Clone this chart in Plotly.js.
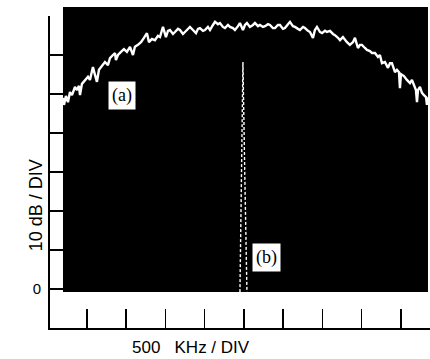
<!DOCTYPE html>
<html>
<head>
<meta charset="utf-8">
<script src="https://cdn.plot.ly/plotly-3.0.1.min.js"></script>
<style>html,body{margin:0;padding:0;background:#fff;}#chart{width:430px;height:359px;}</style>
</head>
<body>
<div id="chart"></div>
<script>
// Frequency offset (kHz) and level (dB) of the broadband spectrum (a)
const freqA = [-2306,-2293,-2268,-2242,-2217,-2191,-2153,-2127,-2102,-2089,-2064,-2025,-1987,-1962,-1924,-1898,-1873,-1847,-1809,-1771,-1733,-1707,-1669,-1643,-1631,-1605,-1567,-1529,-1491,-1452,-1414,-1389,-1350,-1312,-1274,-1236,-1210,-1172,-1134,-1096,-1070,-1032,-994,-968,-943,-904,-879,-841,-815,-777,-752,-713,-688,-650,-611,-586,-561,-522,-497,-459,-433,-395,-369,-331,-306,-268,-242,-204,-178,-140,-115,-76,-51,-13,13,38,76,115,140,178,204,242,268,306,331,369,395,433,459,497,522,561,586,624,650,688,713,752,777,815,841,879,904,930,968,994,1032,1057,1096,1134,1159,1198,1223,1261,1287,1312,1350,1389,1414,1452,1478,1503,1541,1567,1605,1631,1669,1707,1732,1758,1796,1834,1860,1885,1924,1949,1975,1987,2000,2038,2076,2115,2140,2166,2191,2204,2217,2242,2268,2293,2319,2331,2344];
const levelA = [49.0,47.2,49.5,47.9,50.5,49.7,51.8,51.0,52.1,49.7,52.6,53.6,54.4,53.6,56.9,54.9,53.1,56.2,57.2,58.2,57.4,59.2,60.0,60.5,58.7,60.0,60.8,61.5,60.8,62.1,60.0,62.1,62.6,63.3,64.4,65.6,63.3,64.1,63.8,64.9,64.6,67.2,64.6,66.2,66.4,65.4,65.9,66.7,66.4,65.4,65.9,66.7,67.2,66.4,65.6,66.7,66.9,66.2,66.4,67.2,66.4,67.7,68.5,67.9,68.2,67.2,66.9,67.7,67.2,66.9,66.4,67.4,68.2,66.4,67.7,68.2,67.2,67.7,68.2,67.4,67.7,67.2,67.4,67.9,67.7,66.9,66.9,67.7,67.7,66.7,66.9,67.9,68.5,67.4,67.2,66.7,66.4,67.2,66.9,66.2,65.9,64.4,66.4,67.2,65.9,65.6,66.2,65.9,66.2,65.4,65.1,64.4,63.8,64.6,63.8,63.3,62.6,63.3,64.4,61.8,62.6,62.6,61.8,61.3,61.0,60.5,60.5,59.5,60.0,57.9,58.2,56.7,57.9,57.9,55.6,56.2,55.6,51.5,55.1,54.6,53.6,52.8,53.6,52.3,51.0,47.9,51.0,51.8,50.3,49.7,49.2,47.2,49.2];
// Narrow line (b)
const freqB = [-51, -30, -13, 10, 38];
const levelB = [-0.8, 30, 58.2, 30, -0.8];
const yTicks = [0,10,20,30,40,50,60,70];
const yTickText = ['0','','','','','','',''];
const xTicks = [-2000,-1500,-1000,-500,0,500,1000,1500,2000];

const font = 'Liberation Sans, Arial, sans-serif';
const traces = [
  {x: freqA, y: levelA, type: 'scatter', mode: 'lines',
   line: {color: '#ffffff', width: 2.4}, hoverinfo: 'skip'},
  {x: freqB, y: levelB, type: 'scatter', mode: 'lines',
   line: {color: '#ffffff', width: 1.4, dash: '3px,2px'}, hoverinfo: 'skip'}
];
const layout = {
  width: 430, height: 359,
  margin: {l: 50, r: 0, t: 16, b: 31, pad: 0},
  paper_bgcolor: '#ffffff', plot_bgcolor: '#ffffff',
  showlegend: false,
  font: {family: font, color: '#000', size: 14},
  xaxis: {range: [-2471, 2370], tickmode: 'array', tickvals: xTicks,
    showticklabels: false, ticks: 'inside', ticklen: 19, tickwidth: 1.5, tickcolor: '#000',
    showline: true, linewidth: 1.8, linecolor: '#000', showgrid: false, zeroline: false,
    fixedrange: true},
  yaxis: {range: [-10, 70], tickmode: 'array', tickvals: yTicks, ticktext: yTickText,
    ticks: 'inside', ticklen: 13, tickwidth: 1.5, tickcolor: '#000',
    showline: true, linewidth: 1.8, linecolor: '#000', showgrid: false, zeroline: false,
    tickfont: {family: font, size: 15, color: '#000'}, ticklabelstandoff: 4,
    fixedrange: true},
  shapes: [
    {type: 'rect', xref: 'paper', yref: 'paper', x0: 0.0342, x1: 0.9947, y0: 0.1154, y1: 1.0288,
     fillcolor: '#000000', line: {width: 0}, layer: 'below'}
  ],
  annotations: [
    {text: '(a)', x: -1554, y: 49.7, xref: 'x', yref: 'y', showarrow: false,
     font: {family: 'Liberation Serif, Times New Roman, serif', size: 18, color: '#000'},
     bgcolor: '#ffffff', borderpad: 3},
    {text: '(b)', x: 293, y: 8.2, xref: 'x', yref: 'y', showarrow: false,
     font: {family: 'Liberation Serif, Times New Roman, serif', size: 18, color: '#000'},
     bgcolor: '#ffffff', borderpad: 3},
    {text: '10 dB / DIV', xref: 'paper', yref: 'paper', x: -0.068, y: 0.394,
     showarrow: false, textangle: -90, font: {family: font, size: 18, color: '#000'}},
    {text: '500\u00A0\u00A0 KHz / DIV', xref: 'paper', yref: 'paper', x: 0.37, y: -0.061,
     showarrow: false, yanchor: 'middle', font: {family: font, size: 17, color: '#000'}}
  ]
};
Plotly.newPlot('chart', traces, layout, {staticPlot: true, displayModeBar: false});
</script>
</body>
</html>
